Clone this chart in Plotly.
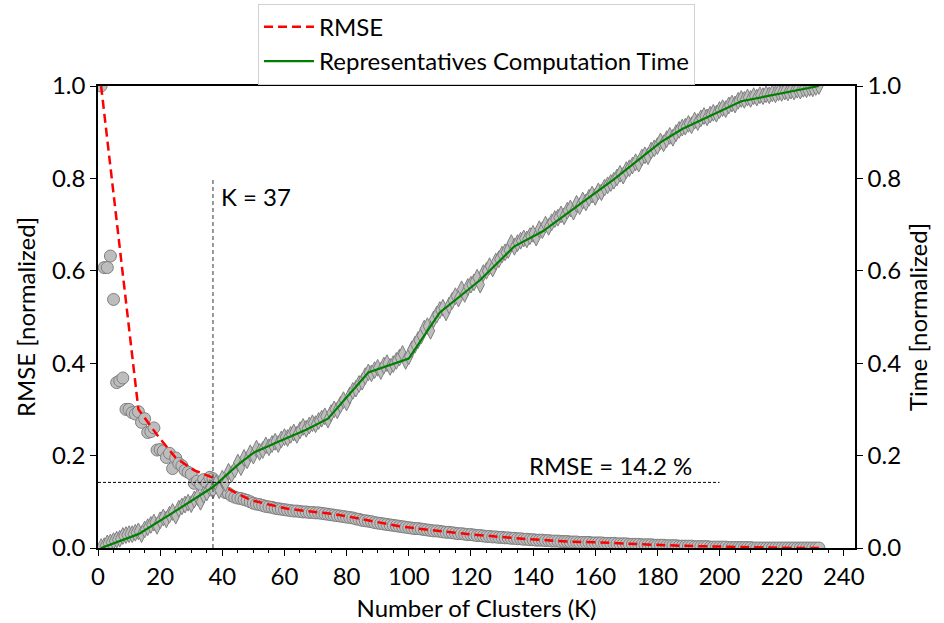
import plotly.graph_objects as go

# ---------------- data ----------------
k_values = list(range(1, 233))

rmse_points = [
    1.0, 0.607, 0.607, 0.632, 0.538, 0.358, 0.362, 0.368, 0.300, 0.300,
    0.293, 0.290, 0.295, 0.272, 0.280, 0.250, 0.252, 0.260, 0.212, 0.213,
    0.210, 0.196, 0.205, 0.172, 0.195, 0.183, 0.178, 0.168, 0.164, 0.160,
    0.140, 0.145, 0.138, 0.148, 0.140, 0.153, 0.150, 0.138, 0.130, 0.125,
    0.120, 0.118, 0.113, 0.110, 0.108, 0.107, 0.105, 0.103, 0.100, 0.097,
    0.095, 0.094, 0.092, 0.090, 0.089, 0.088, 0.086, 0.085, 0.084, 0.083,
    0.082, 0.081, 0.080, 0.080, 0.079, 0.078, 0.078, 0.077, 0.077, 0.076,
    0.076, 0.075, 0.074, 0.073, 0.072, 0.071, 0.070, 0.069, 0.068, 0.067,
    0.066, 0.065, 0.063, 0.062, 0.060, 0.059, 0.058, 0.057, 0.055, 0.054,
    0.053, 0.052, 0.051, 0.050, 0.049, 0.048, 0.047, 0.046, 0.045, 0.044,
    0.043, 0.042, 0.042, 0.041, 0.040, 0.039, 0.038, 0.037, 0.037, 0.036,
    0.035, 0.034, 0.034, 0.033, 0.032, 0.031, 0.031, 0.030, 0.029, 0.029,
    0.028, 0.027, 0.027, 0.026, 0.025, 0.025, 0.024, 0.024, 0.023, 0.023,
    0.022, 0.022, 0.021, 0.021, 0.020, 0.020, 0.019, 0.019, 0.018, 0.018,
    0.017, 0.017, 0.017, 0.016, 0.016, 0.015, 0.015, 0.015, 0.014, 0.014,
    0.014, 0.013, 0.013, 0.013, 0.012, 0.012, 0.012, 0.012, 0.011, 0.011,
    0.011, 0.011, 0.010, 0.010, 0.010, 0.010, 0.009, 0.009, 0.009, 0.009,
    0.008, 0.008, 0.008, 0.008, 0.007, 0.007, 0.007, 0.007, 0.006, 0.006,
    0.006, 0.006, 0.005, 0.005, 0.005, 0.005, 0.004, 0.004, 0.004, 0.004,
    0.004, 0.003, 0.003, 0.003, 0.003, 0.003, 0.002, 0.002, 0.002, 0.002,
    0.002, 0.002, 0.001, 0.001, 0.001, 0.001, 0.001, 0.001, 0.001, 0.001,
    0.0, 0.0, 0.0, 0.0, 0.0, 0.0, 0.0, 0.0, 0.0, 0.0,
    0.0, 0.0, 0.0, 0.0, 0.0, 0.0, 0.0, 0.0, 0.0, 0.0,
    0.0, 0.0,
]

time_points = [
    0.002, 0.004, 0.010, 0.012, 0.015, 0.018, 0.020, 0.026, 0.028, 0.030,
    0.030, 0.033, 0.036, 0.030, 0.040, 0.045, 0.050, 0.055, 0.048, 0.060,
    0.066, 0.062, 0.072, 0.078, 0.070, 0.085, 0.090, 0.094, 0.098, 0.095,
    0.105, 0.110, 0.100, 0.115, 0.120, 0.130, 0.125, 0.140, 0.125, 0.150,
    0.140, 0.165, 0.160, 0.170, 0.185, 0.175, 0.195, 0.190, 0.205, 0.200,
    0.215, 0.208, 0.212, 0.222, 0.218, 0.225, 0.230, 0.225, 0.235, 0.240,
    0.238, 0.245, 0.250, 0.245, 0.255, 0.262, 0.258, 0.265, 0.270, 0.268,
    0.275, 0.280, 0.285, 0.278, 0.292, 0.300, 0.298, 0.310, 0.320, 0.315,
    0.330, 0.340, 0.345, 0.355, 0.360, 0.372, 0.380, 0.378, 0.385, 0.390,
    0.383, 0.395, 0.400, 0.392, 0.398, 0.405, 0.412, 0.420, 0.405, 0.415,
    0.430, 0.440, 0.450, 0.460, 0.475, 0.480, 0.470, 0.495, 0.505, 0.515,
    0.520, 0.510, 0.525, 0.535, 0.545, 0.540, 0.560, 0.550, 0.565, 0.570,
    0.575, 0.585, 0.570, 0.595, 0.600, 0.610, 0.605, 0.620, 0.625, 0.635,
    0.640, 0.645, 0.660, 0.652, 0.660, 0.665, 0.670, 0.668, 0.675, 0.680,
    0.672, 0.690, 0.688, 0.700, 0.695, 0.705, 0.712, 0.715, 0.722, 0.718,
    0.730, 0.735, 0.728, 0.745, 0.740, 0.752, 0.748, 0.758, 0.765, 0.760,
    0.772, 0.770, 0.780, 0.785, 0.790, 0.795, 0.802, 0.810, 0.806, 0.818,
    0.822, 0.828, 0.835, 0.832, 0.845, 0.850, 0.848, 0.860, 0.865, 0.870,
    0.880, 0.876, 0.885, 0.892, 0.888, 0.898, 0.905, 0.910, 0.912, 0.918,
    0.915, 0.925, 0.922, 0.930, 0.935, 0.932, 0.938, 0.942, 0.940, 0.948,
    0.952, 0.950, 0.958, 0.962, 0.960, 0.968, 0.972, 0.970, 0.975, 0.972,
    0.978, 0.975, 0.980, 0.978, 0.982, 0.980, 0.984, 0.982, 0.986, 0.985,
    0.988, 0.986, 0.990, 0.988, 0.992, 0.990, 0.994, 0.993, 0.996, 0.995,
    0.998, 1.000,
]

rmse_fit_k = [1, 13, 19, 25, 31, 37, 43, 49, 55, 61, 67, 73, 79, 85, 91, 97,
              103, 109, 115, 121, 127, 133, 139, 145, 151, 157, 163, 169, 175,
              181, 187, 193, 199, 205, 211, 217, 223, 232]
rmse_fit = [1.0, 0.30, 0.245, 0.195, 0.168, 0.152, 0.124, 0.104, 0.094, 0.085,
            0.080, 0.076, 0.070, 0.062, 0.054, 0.047, 0.042, 0.037, 0.033,
            0.029, 0.025, 0.022, 0.019, 0.016, 0.014, 0.013, 0.012, 0.010,
            0.008, 0.006, 0.005, 0.004, 0.003, 0.002, 0.001, 0.0005, 0.0, 0.0]

time_fit_k = [1, 13, 24, 37, 45, 50, 58, 67, 74, 84, 87, 100, 110, 123, 134,
              143, 152, 166, 181, 188, 207, 232]
time_fit = [0.0, 0.030, 0.076, 0.132, 0.180, 0.206, 0.230, 0.256, 0.280,
            0.357, 0.380, 0.410, 0.510, 0.580, 0.653, 0.685, 0.730, 0.798,
            0.878, 0.907, 0.967, 1.0]

chosen_k = 37
chosen_rmse = 0.142
x_ticks = list(range(0, 241, 20))
y_ticks = [0.0, 0.2, 0.4, 0.6, 0.8, 1.0]

FONT = "Lato"
FS = 24

fig = go.Figure()

fig.add_trace(go.Scatter(
    x=k_values, y=rmse_points, mode="markers", showlegend=False,
    marker=dict(symbol="circle", size=12, color="#bdbdbd",
                line=dict(color="#7f7f7f", width=1)),
))
fig.add_trace(go.Scatter(
    x=rmse_fit_k, y=rmse_fit, mode="lines", name="RMSE",
    line=dict(color="red", width=2.5, dash="9px,5px"),
))
fig.add_trace(go.Scatter(
    x=k_values, y=time_points, mode="markers", showlegend=False, yaxis="y2",
    marker=dict(symbol="diamond-tall", size=12, color="#bdbdbd",
                line=dict(color="#7f7f7f", width=1)),
))
fig.add_trace(go.Scatter(
    x=time_fit_k, y=time_fit, mode="lines",
    name="Representatives Computation Time", yaxis="y2",
    line=dict(color="green", width=2.2),
))

# reference lines
fig.add_shape(type="line", xref="x", yref="y", x0=chosen_k, x1=chosen_k,
              y0=0, y1=0.8, line=dict(color="#333333", width=1, dash="4px,3px"))
fig.add_shape(type="line", xref="x", yref="y", x0=0, x1=200,
              y0=chosen_rmse, y1=chosen_rmse,
              line=dict(color="black", width=1, dash="3px,2px"))

fig.add_annotation(x=chosen_k + 1.8, y=0.76, xref="x", yref="y",
                   text=f"K = {chosen_k}", showarrow=False, xanchor="left",
                   font=dict(family=FONT, size=FS, color="black"))
fig.add_annotation(x=165, y=0.178, xref="x", yref="y",
                   text=f"RMSE = {chosen_rmse*100:.1f} %", showarrow=False,
                   xanchor="center",
                   font=dict(family=FONT, size=FS, color="black"))

axis_common = dict(showgrid=False, zeroline=False, showline=True,
                   linecolor="black", linewidth=1.5, ticks="outside",
                   ticklen=6, tickwidth=1.2, tickcolor="black",
                   automargin=False,
                   tickfont=dict(family=FONT, size=FS, color="black"))

fig.update_layout(
    width=944, height=623,
    margin=dict(l=98, r=89, t=86, b=75, autoexpand=False),
    plot_bgcolor="white", paper_bgcolor="white",
    font=dict(family=FONT, size=FS, color="black"),
    xaxis=dict(range=[0, 243.6], tickvals=x_ticks, mirror=True,
               title=dict(text="Number of Clusters (K)", standoff=12,
                          font=dict(family=FONT, size=FS)),
               minor=dict(dtick=5, ticks="outside", ticklen=3,
                          tickcolor="black", tick0=0),
               **axis_common),
    yaxis=dict(range=[0, 1], tickvals=y_ticks, tickformat=".1f",
               title=dict(text="RMSE [normalized]", standoff=10,
                          font=dict(family=FONT, size=FS)),
               **axis_common),
    yaxis2=dict(range=[0, 1], tickvals=y_ticks, tickformat=".1f",
                overlaying="y", side="right",
                title=dict(text="Time [normalized]", standoff=10,
                           font=dict(family=FONT, size=FS)),
                **axis_common),
    legend=dict(x=0.5, xanchor="center", y=1.178, yanchor="top",
                bgcolor="white", bordercolor="#d0d0d0", borderwidth=1,
                font=dict(family=FONT, size=FS, color="black"),
                itemwidth=50),
)

fig.write_html("out.html")
